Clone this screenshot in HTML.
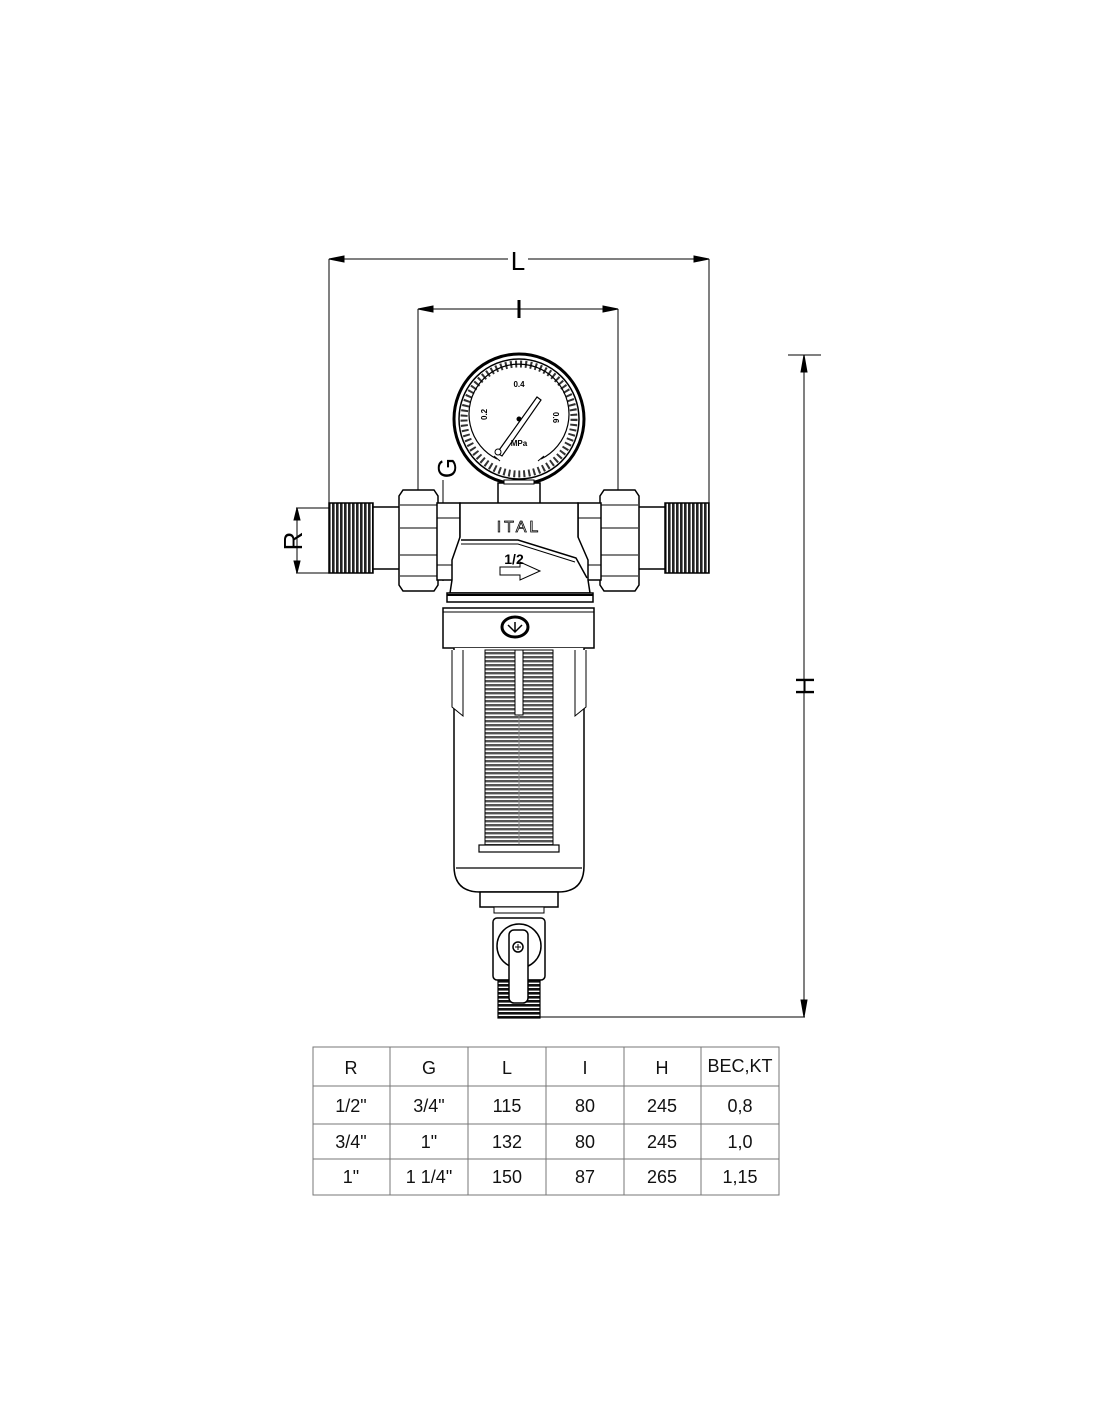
<!DOCTYPE html>
<html><head><meta charset="utf-8"><style>
html,body{margin:0;padding:0;background:#fff;}
svg{display:block;}
</style></head><body>
<svg width="1100" height="1422" viewBox="0 0 1100 1422" xmlns="http://www.w3.org/2000/svg" font-family="Liberation Sans, DejaVu Sans, sans-serif">
<defs>
<pattern id="thr" width="3" height="4" patternUnits="userSpaceOnUse"><rect width="3" height="4" fill="#fff"/><rect width="3" height="2.6" fill="#111"/></pattern>
<pattern id="thrv" width="4" height="3" patternUnits="userSpaceOnUse"><rect width="4" height="3" fill="#fff"/><rect width="2.6" height="3" fill="#222"/></pattern>
<pattern id="mesh" width="4" height="4" patternUnits="userSpaceOnUse"><rect width="4" height="4" fill="#fff"/><rect width="4" height="2.4" fill="#555"/></pattern>
</defs>
<g stroke="#000" fill="none" stroke-width="1">
<line x1="329" y1="259" x2="329" y2="508"/>
<line x1="709" y1="259" x2="709" y2="508"/>
<line x1="329" y1="259" x2="508" y2="259"/>
<line x1="528" y1="259" x2="709" y2="259"/>
<polygon points="329,259 344,256 344,262" fill="#000"/>
<polygon points="709,259 694,256 694,262" fill="#000"/>
<line x1="418" y1="309" x2="418" y2="490"/>
<line x1="618" y1="309" x2="618" y2="490"/>
<line x1="418" y1="309" x2="618" y2="309"/>
<polygon points="418,309 433,306 433,312" fill="#000"/>
<polygon points="618,309 603,306 603,312" fill="#000"/>
<line x1="519" y1="300" x2="519" y2="318" stroke-width="3"/>
<line x1="788" y1="355" x2="821" y2="355"/>
<line x1="804" y1="355" x2="804" y2="1017"/>
<line x1="540" y1="1017" x2="805" y2="1017"/>
<polygon points="804,355 801,372 807,372" fill="#000"/>
<polygon points="804,1017 801,1000 807,1000" fill="#000"/>
<line x1="296" y1="508" x2="329" y2="508"/>
<line x1="296" y1="573" x2="329" y2="573"/>
<line x1="297" y1="508" x2="297" y2="573"/>
<polygon points="297,508 294,520 300,520" fill="#000"/>
<polygon points="297,573 294,561 300,561" fill="#000"/>
<line x1="443" y1="480" x2="443" y2="581"/>
<polygon points="443,503 440,516 446,516" fill="#000"/>
<polygon points="443,579 440,566 446,566" fill="#000"/>

<circle cx="519" cy="419" r="65" stroke-width="3"/>
<circle cx="519" cy="419" r="60" stroke-width="1.5"/>
<circle cx="519" cy="419" r="55" stroke="#333" stroke-width="7" stroke-dasharray="2 3"/>
<path d="M497,459 A50,50 0 1 1 541,459" stroke-width="1.2"/>
<path d="M494,456 L500,461 M544,456 L538,461" />
<polygon points="497,453 537,397 541,400 502,456" fill="#fff" stroke-width="1.2"/>
<circle cx="498" cy="452" r="3" fill="#fff"/>
<circle cx="519" cy="419" r="2" fill="#000"/>
<rect x="498" y="483" width="42" height="25" fill="#fff" stroke-width="1.5"/>
<rect x="504" y="480" width="30" height="4" fill="#fff"/>

<rect x="329" y="503" width="44" height="70" fill="url(#thrv)" stroke-width="1.5"/>
<rect x="373" y="507" width="27" height="62" fill="#fff" stroke-width="1.5"/>
<path d="M403,490 H434 L438,496 V585 L434,591 H403 L399,585 V496 Z" fill="#fff" stroke-width="1.5"/>
<line x1="400" y1="505" x2="437" y2="505"/><line x1="400" y1="528" x2="437" y2="528"/>
<line x1="400" y1="555" x2="437" y2="555"/><line x1="400" y1="576" x2="437" y2="576"/>
<rect x="437" y="503" width="23" height="77" fill="#fff" stroke-width="1.5"/>
<line x1="437" y1="518" x2="460" y2="518"/><line x1="437" y1="565" x2="460" y2="565"/>
<rect x="665" y="503" width="44" height="70" fill="url(#thrv)" stroke-width="1.5"/>
<rect x="638" y="507" width="27" height="62" fill="#fff" stroke-width="1.5"/>
<path d="M604,490 H635 L639,496 V585 L635,591 H604 L600,585 V496 Z" fill="#fff" stroke-width="1.5"/>
<line x1="601" y1="505" x2="638" y2="505"/><line x1="601" y1="528" x2="638" y2="528"/>
<line x1="601" y1="555" x2="638" y2="555"/><line x1="601" y1="576" x2="638" y2="576"/>
<rect x="578" y="503" width="23" height="77" fill="#fff" stroke-width="1.5"/>
<line x1="578" y1="518" x2="601" y2="518"/><line x1="578" y1="565" x2="601" y2="565"/>

<path d="M460,503 H578 V537 L588,560 L588,580 L590,593 H450 L452,580 L452,560 L460,537 Z" fill="#fff" stroke-width="1.5"/>
<path d="M461,540 H518 L576,558 L587,578" stroke-width="1.5"/>
<path d="M461,544 H518 L575,562" />
<rect x="447" y="593" width="146" height="9" fill="#fff" stroke-width="1.5"/>
<line x1="447" y1="595" x2="593" y2="595" stroke-width="2"/>
<rect x="443" y="608" width="151" height="40" fill="#fff" stroke-width="1.5"/>
<line x1="443" y1="612" x2="594" y2="612"/>
<ellipse cx="515" cy="627" rx="13" ry="10" stroke-width="3"/>
<path d="M508,625 L515,632 L522,625 M515,622 V632" stroke-width="1.5"/>
<path d="M500,567 H520 V562 L540,571 L520,580 V575 H500 Z" fill="#fff"/>

<path d="M454,648 V866 Q454,892 480,892 H558 Q584,892 584,866 V648" fill="#fff" stroke-width="1.5"/>
<line x1="456" y1="868" x2="582" y2="868" stroke-width="1.2"/>
<rect x="485" y="650" width="68" height="195" fill="url(#mesh)"/>
<line x1="519" y1="650" x2="519" y2="845" stroke="#888"/>
<rect x="515" y="650" width="8" height="65" fill="#fff"/>
<rect x="479" y="845" width="80" height="7" fill="#fff" stroke-width="1.2"/>
<path d="M452,650 V707 L463,716 V650" fill="#fff"/>
<path d="M586,650 V707 L575,716 V650" fill="#fff"/>
<rect x="480" y="892" width="78" height="15" fill="#fff" stroke-width="1.5"/>
<rect x="494" y="907" width="50" height="6" fill="#fff"/>
<rect x="493" y="918" width="52" height="62" rx="4" fill="#fff" stroke-width="1.5"/>
<circle cx="519" cy="946" r="22" fill="#fff" stroke-width="1.5"/>
<rect x="498" y="980" width="42" height="38" fill="url(#thr)" stroke-width="1.2"/>
<rect x="509" y="930" width="19" height="73" rx="5" fill="#fff" stroke-width="1.5"/>
<circle cx="518" cy="947" r="5" fill="#fff" stroke-width="1.5"/>
<path d="M515,947 H521 M518,944 V950"/>
</g>
<g font-size="8" font-weight="bold" fill="#000">
<text x="519" y="387" text-anchor="middle">0.4</text>
<text x="487" y="420" transform="rotate(-90 487 420)">0.2</text>
<text x="553" y="412" transform="rotate(90 553 412)">0.6</text>
<text x="519" y="446" text-anchor="middle">MPa</text>
</g>
<text x="519" y="532" font-size="16" text-anchor="middle" fill="#fff" stroke="#000" stroke-width="0.8" letter-spacing="3">ITAL</text>
<text x="514" y="564" font-size="14" font-weight="bold" text-anchor="middle">1/2</text>
<g font-size="26" fill="#000" text-anchor="middle" dominant-baseline="central">
<text x="518" y="261">L</text>
<text transform="translate(293,541) rotate(-90)">R</text>
<text transform="translate(447,468) rotate(-90)">G</text>
<text transform="translate(805,686) rotate(-90)">H</text>
</g>
<g stroke="#777" stroke-width="1" fill="none">
<rect x="313" y="1047" width="466" height="148"/>
<line x1="313" y1="1086" x2="779" y2="1086"/>
<line x1="313" y1="1124" x2="779" y2="1124"/>
<line x1="313" y1="1159" x2="779" y2="1159"/>
<line x1="390" y1="1047" x2="390" y2="1195"/>
<line x1="468" y1="1047" x2="468" y2="1195"/>
<line x1="546" y1="1047" x2="546" y2="1195"/>
<line x1="624" y1="1047" x2="624" y2="1195"/>
<line x1="701" y1="1047" x2="701" y2="1195"/>
</g>
<g font-size="18" fill="#111" text-anchor="middle">
<text x="351" y="1074">R</text><text x="429" y="1074">G</text><text x="507" y="1074">L</text><text x="585" y="1074">I</text><text x="662" y="1074">H</text><text x="740" y="1072">BEC,KT</text>
<text x="351" y="1112">1/2"</text><text x="429" y="1112">3/4"</text><text x="507" y="1112">115</text><text x="585" y="1112">80</text><text x="662" y="1112">245</text><text x="740" y="1112">0,8</text>
<text x="351" y="1148">3/4"</text><text x="429" y="1148">1"</text><text x="507" y="1148">132</text><text x="585" y="1148">80</text><text x="662" y="1148">245</text><text x="740" y="1148">1,0</text>
<text x="351" y="1183">1"</text><text x="429" y="1183">1 1/4"</text><text x="507" y="1183">150</text><text x="585" y="1183">87</text><text x="662" y="1183">265</text><text x="740" y="1183">1,15</text>
</g>
</svg>
</body></html>
